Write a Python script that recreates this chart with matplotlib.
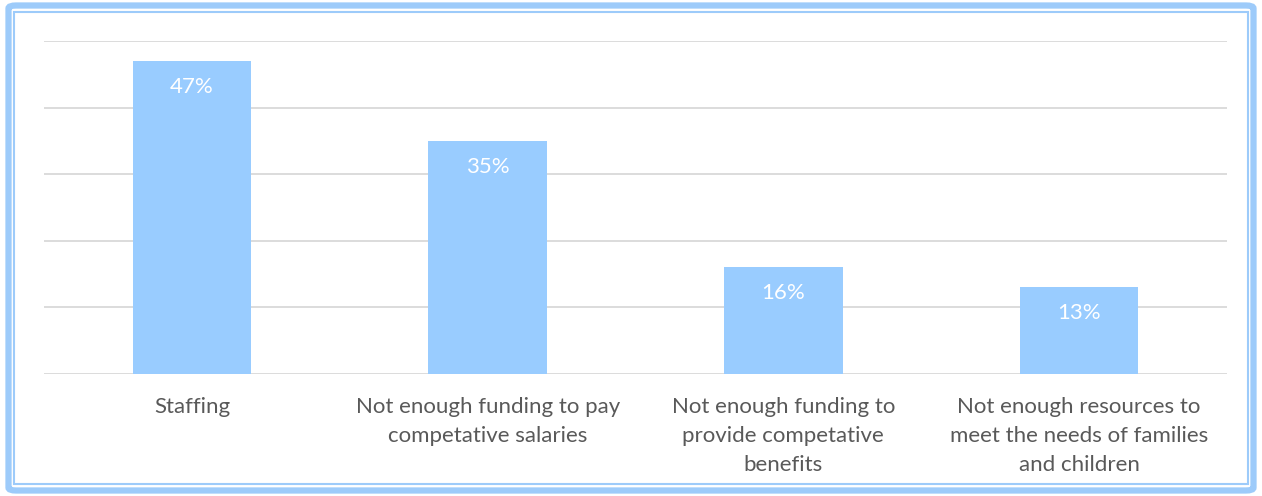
import matplotlib
matplotlib.use("Agg")
import matplotlib.pyplot as plt
from matplotlib.patches import FancyBboxPatch, Rectangle

categories = ["Staffing",
              "Not enough funding to pay\ncompetative salaries",
              "Not enough funding to\nprovide competative\nbenefits",
              "Not enough resources to\nmeet the needs of families\nand children"]
values = [47, 35, 16, 13]
labels = ["47%", "35%", "16%", "13%"]

plt.rcParams['font.family'] = ['Lato', 'DejaVu Sans']

W, H = 1262, 496
fig = plt.figure(figsize=(W/100, H/100), dpi=100)
fig.patch.set_facecolor("white")

# border
outer = FancyBboxPatch((8.5/W, 5.5/H), (W-17)/W, (H-11)/H,
                       boxstyle="round,pad=0,rounding_size=0.006",
                       transform=fig.transFigure, fill=False,
                       edgecolor="#9DCBFA", linewidth=4.5)
fig.add_artist(outer)
inner = Rectangle((14/W, 12/H), (W-28)/W, (H-24)/H, transform=fig.transFigure,
                  fill=False, edgecolor="#9DCBFA", linewidth=1.5)
fig.add_artist(inner)

ax = fig.add_axes([44/W, (H-374)/H, (1227-44)/W, (374-41)/H])
x = range(len(categories))
bars = ax.bar(x, values, width=0.4, color="#99CCFF", zorder=2)
ax.set_ylim(0, 50)
ax.set_xlim(-0.5, len(categories)-0.5)
ax.set_yticks([0, 10, 20, 30, 40, 50])
ax.yaxis.grid(True, color="#D9D9D9", linewidth=1.3, zorder=0)
ax.tick_params(axis='y', left=False, labelleft=False)
ax.tick_params(axis='x', bottom=False, pad=13, labelsize=16, labelcolor="#595959")
ax.set_xticks(list(x))
ax.set_xticklabels(categories, linespacing=1.55, va='top')
for s in ax.spines.values():
    s.set_visible(False)

for b, lab in zip(bars, labels):
    ax.annotate(lab, (b.get_x() + b.get_width()/2, b.get_height()),
                xytext=(0, -26), textcoords="offset pixels",
                ha="center", va="center", color="white", fontsize=16)

fig.savefig("out.png", dpi=100, facecolor="white")
